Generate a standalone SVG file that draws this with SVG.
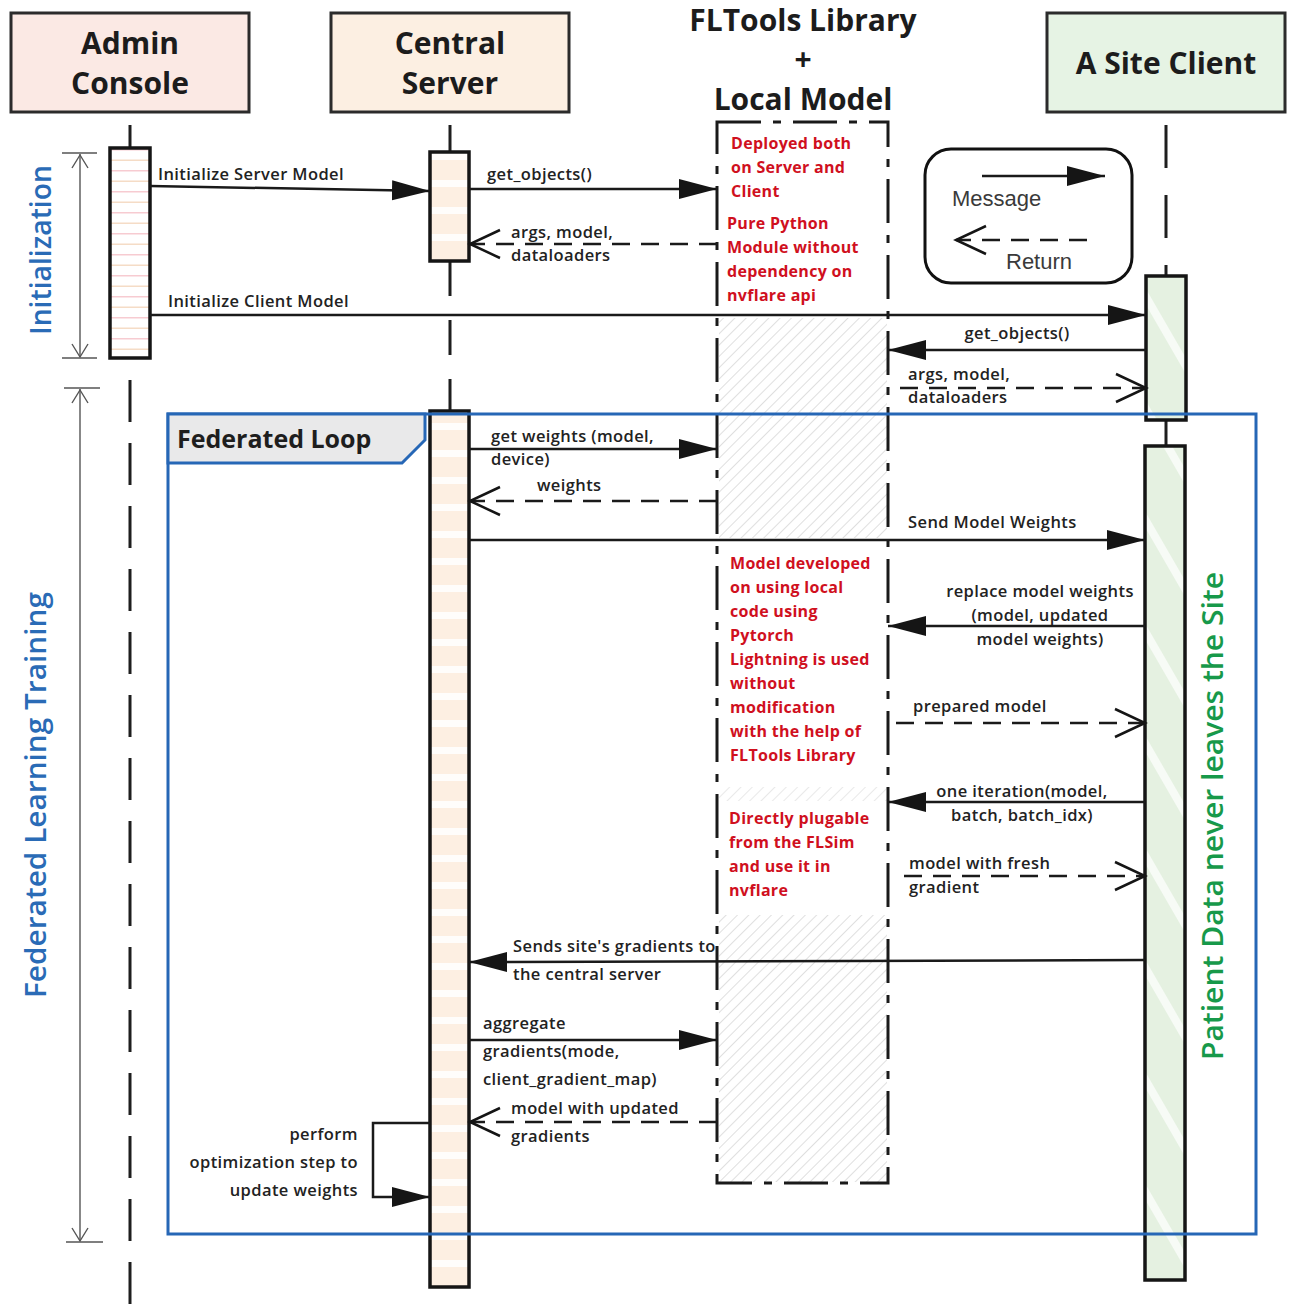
<svg xmlns="http://www.w3.org/2000/svg" width="1290" height="1306" viewBox="0 0 1290 1306">
  <style>
    .hdr { stroke: #2b2b2b; stroke-width: 3; }
    .hdrtxt { font-family: "Open Sans", Lato, sans-serif; font-weight: 700; font-size: 30px; fill: #1c1c1c; text-anchor: middle; }
    .lbl { font-family: "Open Sans", Lato, sans-serif; font-weight: 600; font-size: 16.5px; letter-spacing: 0.4px; fill: #222; }
    .red { font-family: "Open Sans", Lato, sans-serif; font-weight: 700; font-size: 16px; letter-spacing: 0.3px; fill: #d0101e; }
    .side { font-family: "Open Sans", Lato, sans-serif; font-weight: 600; font-size: 29px; fill: #2a6bb6; text-anchor: middle; }
    .green { font-family: "Open Sans", Lato, sans-serif; font-weight: 600; font-size: 28px; fill: #17994a; text-anchor: middle; }
    .legend { font-family: "Liberation Sans", Arial, sans-serif; font-size: 22px; fill: #3a3a3a; }
    .life { stroke: #1e1e1e; stroke-width: 3; fill: none; }
    .act { stroke: #151515; stroke-width: 3.5; }
    .msg { stroke: #1a1a1a; stroke-width: 2.5; fill: none; }
    .ret { stroke: #1a1a1a; stroke-width: 2.5; fill: none; stroke-dasharray: 18 11; }
    .brk { stroke: #555; stroke-width: 1.4; fill: none; }
  </style>
  <defs>
    <marker id="filled" markerUnits="userSpaceOnUse" markerWidth="40" markerHeight="22" refX="38" refY="10" orient="auto">
      <path d="M0,0 L38,10 L0,20 z" fill="#151515"/>
    </marker>
    <marker id="open" markerUnits="userSpaceOnUse" markerWidth="34" markerHeight="34" refX="31" refY="16" orient="auto">
      <path d="M1,2 L31,16 L1,30" fill="none" stroke="#151515" stroke-width="2.5"/>
    </marker>
    <pattern id="hatch" patternUnits="userSpaceOnUse" width="8" height="8" patternTransform="rotate(45)">
      <line x1="0" y1="0" x2="0" y2="8" stroke="#cdcdcd" stroke-width="1.3"/>
    </pattern>
    <pattern id="adminFill" patternUnits="userSpaceOnUse" width="40" height="21">
      <rect width="40" height="21" fill="#ffffff"/>
      <rect y="2" width="40" height="1.5" fill="#f7cbd1"/>
      <rect y="12.5" width="40" height="1.5" fill="#f5dcc6"/>
    </pattern>
    <pattern id="serverFill" patternUnits="userSpaceOnUse" width="40" height="27">
      <rect width="40" height="27" fill="#fdefe2"/>
      <rect y="18" width="40" height="7" fill="#ffffff" opacity="0.85"/>
    </pattern>
    <pattern id="siteFill" patternUnits="userSpaceOnUse" width="56" height="56" patternTransform="rotate(-30)">
      <rect width="56" height="56" fill="#e5f1e1"/>
      <rect x="0" width="8" height="56" fill="#ffffff" opacity="0.7"/>
    </pattern>
  </defs>

  <rect width="1290" height="1306" fill="#ffffff"/>

  <!-- participant headers -->
  <g id="admin-console">
    <rect class="hdr" x="11" y="13" width="238" height="99" fill="#fbe9e4"/>
    <text class="hdrtxt" x="130" y="54">Admin</text>
    <text class="hdrtxt" x="130" y="94">Console</text>
  </g>
  <g id="central-server">
    <rect class="hdr" x="331" y="13" width="238" height="99" fill="#fcefe2"/>
    <text class="hdrtxt" x="450" y="54">Central</text>
    <text class="hdrtxt" x="450" y="94">Server</text>
  </g>
  <g id="fltools-title">
    <text class="hdrtxt" x="803" y="31">FLTools Library</text>
    <text class="hdrtxt" x="803" y="70">+</text>
    <text class="hdrtxt" x="803" y="110">Local Model</text>
  </g>
  <g id="site-client">
    <rect class="hdr" x="1047" y="13" width="238" height="99" fill="#e6f3e4"/>
    <text class="hdrtxt" x="1166" y="74">A Site Client</text>
  </g>

  <!-- lifelines -->
  <g id="lifelines">
    <line class="life" x1="130" y1="125" x2="130" y2="148"/>
    <line class="life" x1="130" y1="380" x2="130" y2="1306" stroke-dasharray="42 21"/>
    <line class="life" x1="450" y1="125" x2="450" y2="152"/>
    <line class="life" x1="450" y1="261" x2="450" y2="411" stroke-dasharray="35 24"/>
    <line class="life" x1="1166" y1="125" x2="1166" y2="276" stroke-dasharray="43 27"/>
    <line class="life" x1="1166" y1="420" x2="1166" y2="446" stroke-width="2"/>
  </g>

  <!-- FLTools library + local model region -->
  <g id="fltools-box">
    <rect x="719" y="318" width="168" height="220" fill="url(#hatch)"/>
    <rect x="719" y="787" width="168" height="14" fill="url(#hatch)" opacity="0.7"/>
    <rect x="719" y="915" width="168" height="267" fill="url(#hatch)"/>
    <rect x="717" y="122" width="171" height="1061" fill="none" stroke="#1a1a1a" stroke-width="3" stroke-dasharray="44 12 8 12"/>
    <g class="red">
      <text x="731" y="149">Deployed both</text>
      <text x="731" y="173">on Server and</text>
      <text x="731" y="197">Client</text>
      <text x="727" y="229">Pure Python</text>
      <text x="727" y="253">Module without</text>
      <text x="727" y="277">dependency on</text>
      <text x="727" y="301">nvflare api</text>
      <text x="730" y="569">Model developed</text>
      <text x="730" y="593">on using local</text>
      <text x="730" y="617">code using</text>
      <text x="730" y="641">Pytorch</text>
      <text x="730" y="665">Lightning is used</text>
      <text x="730" y="689">without</text>
      <text x="730" y="713">modification</text>
      <text x="730" y="737">with the help of</text>
      <text x="730" y="761">FLTools Library</text>
      <text x="729" y="824">Directly plugable</text>
      <text x="729" y="848">from the FLSim</text>
      <text x="729" y="872">and use it in</text>
      <text x="729" y="896">nvflare</text>
    </g>
  </g>

  <!-- activation bars -->
  <g id="admin-activation">
    <rect class="act" x="110" y="148" width="40" height="210" fill="url(#adminFill)"/>
  </g>
  <g id="server-activation-init">
    <rect class="act" x="430" y="152" width="39" height="109" fill="url(#serverFill)"/>
  </g>
  <g id="server-activation-loop">
    <rect class="act" x="430" y="411" width="39" height="876" fill="url(#serverFill)"/>
  </g>
  <g id="site-activation-init">
    <rect class="act" x="1146" y="276" width="40" height="144" fill="url(#siteFill)"/>
  </g>
  <g id="site-activation-loop">
    <rect class="act" x="1145" y="446" width="40" height="834" fill="url(#siteFill)"/>
  </g>

  <!-- phase brackets -->
  <g id="initialization-phase">
    <line class="brk" x1="62" y1="153" x2="97" y2="153"/>
    <line class="brk" x1="62" y1="358" x2="97" y2="358"/>
    <line class="brk" x1="80" y1="154" x2="80" y2="357"/>
    <path class="brk" d="M72,168 L80,155 L88,168 M72,344 L80,357 L88,344"/>
    <text class="side" transform="translate(51,250) rotate(-90)" textLength="170" lengthAdjust="spacingAndGlyphs">Initialization</text>
  </g>
  <g id="training-phase">
    <line class="brk" x1="64" y1="388" x2="100" y2="388"/>
    <line class="brk" x1="66" y1="1242" x2="103" y2="1242"/>
    <line class="brk" x1="80" y1="389" x2="80" y2="1241"/>
    <path class="brk" d="M72,403 L80,390 L88,403 M72,1228 L80,1241 L88,1228"/>
    <text class="side" transform="translate(46,795) rotate(-90)" textLength="406" lengthAdjust="spacingAndGlyphs">Federated Learning Training</text>
  </g>

  <!-- federated loop frame -->
  <g id="federated-loop">
    <rect x="168" y="414" width="1088" height="820" fill="none" stroke="#2667b6" stroke-width="3"/>
    <path d="M168,414 L425,414 L425,440 L402,463 L168,463 z" fill="#e9e9ea" stroke="#2667b6" stroke-width="3"/>
    <text x="177" y="448" font-family="'Open Sans', Lato, sans-serif" font-weight="700" font-size="25" fill="#1e1e1e">Federated Loop</text>
  </g>

  <g id="site-note">
    <text class="green" transform="translate(1223,816) rotate(-90)" textLength="488" lengthAdjust="spacingAndGlyphs">Patient Data never leaves the Site</text>
  </g>

  <!-- legend -->
  <g id="legend">
    <rect x="925" y="149" width="207" height="134" rx="26" fill="#ffffff" stroke="#111" stroke-width="3"/>
    <line class="msg" x1="982" y1="176" x2="1105" y2="176" marker-end="url(#filled)"/>
    <text class="legend" x="952" y="206">Message</text>
    <line class="ret" x1="1087" y1="240" x2="956" y2="240" stroke-dasharray="20 10" marker-end="url(#open)"/>
    <text class="legend" x="1006" y="269">Return</text>
  </g>

  <!-- messages -->
  <g id="connectors">
    <line class="msg" x1="150" y1="186" x2="430" y2="191" marker-end="url(#filled)"/>
    <text class="lbl" x="158" y="180">Initialize Server Model</text>

    <line class="msg" x1="469" y1="189" x2="717" y2="189" marker-end="url(#filled)"/>
    <text class="lbl" x="487" y="180">get_objects()</text>

    <line class="ret" x1="717" y1="244" x2="470" y2="244" marker-end="url(#open)"/>
    <text class="lbl" x="511" y="238">args, model,</text>
    <text class="lbl" x="511" y="261">dataloaders</text>

    <line class="msg" x1="150" y1="315" x2="1146" y2="315" marker-end="url(#filled)"/>
    <text class="lbl" x="168" y="307">Initialize Client Model</text>

    <line class="msg" x1="1146" y1="350" x2="888" y2="350" marker-end="url(#filled)"/>
    <text class="lbl" x="1017" y="339" text-anchor="middle">get_objects()</text>

    <line class="ret" x1="900" y1="388" x2="1146" y2="388" marker-end="url(#open)"/>
    <text class="lbl" x="908" y="380">args, model,</text>
    <text class="lbl" x="908" y="403">dataloaders</text>

    <line class="msg" x1="469" y1="449" x2="717" y2="449" marker-end="url(#filled)"/>
    <text class="lbl" x="491" y="442">get weights (model,</text>
    <text class="lbl" x="491" y="465">device)</text>

    <line class="ret" x1="717" y1="501" x2="470" y2="501" marker-end="url(#open)"/>
    <text class="lbl" x="537" y="491">weights</text>

    <line class="msg" x1="469" y1="540" x2="1145" y2="540" marker-end="url(#filled)"/>
    <text class="lbl" x="908" y="528">Send Model Weights</text>

    <line class="msg" x1="1145" y1="626" x2="888" y2="626" marker-end="url(#filled)"/>
    <text class="lbl" x="1040" y="597" text-anchor="middle">replace model weights</text>
    <text class="lbl" x="1040" y="621" text-anchor="middle">(model, updated</text>
    <text class="lbl" x="1040" y="645" text-anchor="middle">model weights)</text>

    <line class="ret" x1="896" y1="723" x2="1145" y2="723" marker-end="url(#open)"/>
    <text class="lbl" x="913" y="712">prepared model</text>

    <line class="msg" x1="1145" y1="802" x2="888" y2="802" marker-end="url(#filled)"/>
    <text class="lbl" x="1022" y="797" text-anchor="middle">one iteration(model,</text>
    <text class="lbl" x="1022" y="821" text-anchor="middle">batch, batch_idx)</text>

    <line class="ret" x1="904" y1="876" x2="1145" y2="876" marker-end="url(#open)"/>
    <text class="lbl" x="909" y="869">model with fresh</text>
    <text class="lbl" x="909" y="893">gradient</text>

    <line class="msg" x1="1145" y1="960" x2="469" y2="962" marker-end="url(#filled)"/>
    <text class="lbl" x="513" y="952">Sends site's gradients to</text>
    <text class="lbl" x="513" y="980">the central server</text>

    <line class="msg" x1="469" y1="1040" x2="717" y2="1040" marker-end="url(#filled)"/>
    <text class="lbl" x="483" y="1029">aggregate</text>
    <text class="lbl" x="483" y="1057">gradients(mode,</text>
    <text class="lbl" x="483" y="1085">client_gradient_map)</text>

    <line class="ret" x1="717" y1="1122" x2="470" y2="1122" marker-end="url(#open)"/>
    <text class="lbl" x="511" y="1114">model with updated</text>
    <text class="lbl" x="511" y="1142">gradients</text>

    <path class="msg" d="M430,1123 L373,1123 L373,1197 L430,1197" marker-end="url(#filled)"/>
    <text class="lbl" x="358" y="1140" text-anchor="end">perform</text>
    <text class="lbl" x="358" y="1168" text-anchor="end">optimization step to</text>
    <text class="lbl" x="358" y="1196" text-anchor="end">update weights</text>
  </g>
</svg>
